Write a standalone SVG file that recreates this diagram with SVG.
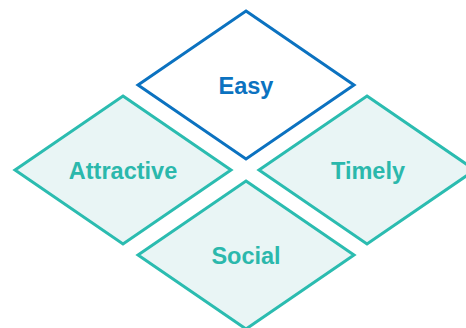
<svg xmlns="http://www.w3.org/2000/svg" width="466" height="328" viewBox="0 0 466 328">
<style>
.d{stroke-width:3;stroke-linejoin:miter}
.blue{fill:#ffffff;stroke:#0b72c0}
.teal{fill:#e9f5f5;stroke:#2bbcb0}
.t{font-family:"Liberation Sans",Arial,sans-serif;font-weight:bold;font-size:23.5px;text-anchor:middle}
.tb{fill:#0b72c0}
.tt{fill:#2bb8ac}
</style>
<rect width="466" height="328" fill="#ffffff"/>
<g id="attractive">
<polygon class="d teal" points="123,96 231,170 123,244 15,170"/>
<text class="t tt" x="123" y="179">Attractive</text>
</g>
<g id="timely">
<polygon class="d teal" points="367,96 475,170 367,244 259,170"/>
<text class="t tt" x="368" y="179">Timely</text>
</g>
<g id="social">
<polygon class="d teal" points="246,181 354,255 246,329 138,255"/>
<text class="t tt" x="246" y="264">Social</text>
</g>
<g id="easy">
<polygon class="d blue" points="246,11 354,85 246,159 138,85"/>
<text class="t tb" x="246" y="94">Easy</text>
</g>
<g id="connectors"></g>
</svg>
